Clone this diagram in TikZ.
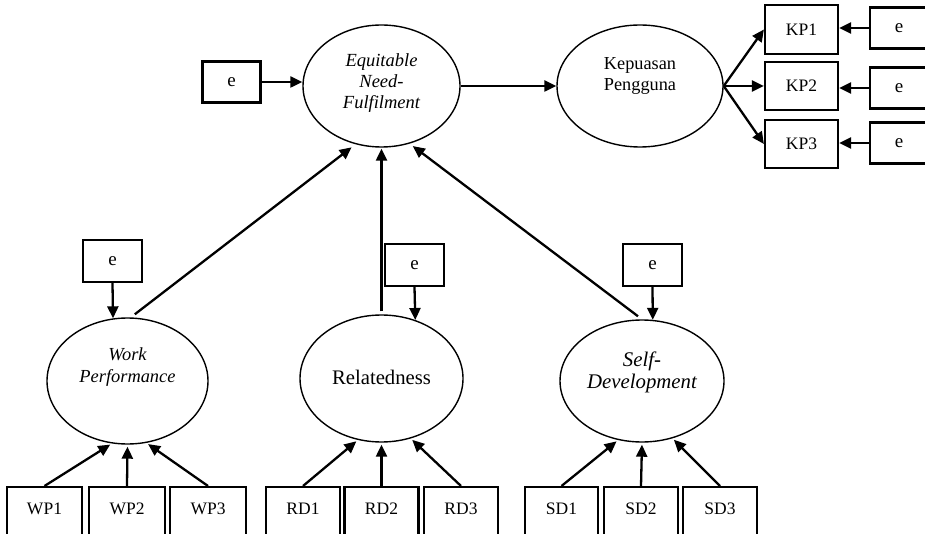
\documentclass[tikz,border=0pt]{standalone}
\usepackage{fontspec}
\setmainfont{Liberation Serif}
\usetikzlibrary{arrows.meta,shapes.geometric}
\begin{document}
\begin{tikzpicture}[x=1pt,y=-1pt,
  box/.style={draw, line width=2.2pt, rectangle, inner sep=0pt,
    font=\fontsize{17.5}{20}\selectfont},
  errbox/.style={box, minimum width=58pt, minimum height=41pt,
    font=\fontsize{19}{20}\selectfont},
  indbox/.style={box, minimum width=74pt, anchor=north,
    text height=27pt, text depth=35pt},
  kpbox/.style={box, minimum width=73pt, minimum height=48pt},
  latent/.style={draw, ellipse, line width=1.4pt, inner sep=0pt},
  intext/.style={align=center, inner sep=0pt},
  arr/.style={line width=2.3pt, -{Triangle[length=12pt,width=11pt]}}
]
\useasboundingbox (0,0) rectangle (925,534);
\clip (0,0) rectangle (925,534);

% endogenous constructs
\node[errbox] (e0) at (231.5,82) {e};
\node[latent, minimum width=157pt, minimum height=122pt,
  label={[intext, font=\fontsize{18.5}{21}\selectfont\itshape, yshift=2.5pt]center:{Equitable\\Need-\\Fulfilment}}]
  (eq) at (381.5,86) {};
\node[latent, minimum width=166pt, minimum height=122pt,
  label={[intext, font=\fontsize{18.3}{21}\selectfont, yshift=10.5pt]center:{Kepuasan\\Pengguna}}]
  (kp) at (640,86) {};

% indicators of Kepuasan Pengguna with their errors
\node[kpbox, minimum height=49pt] (kp1) at (801.5,29.5) {KP1};
\node[kpbox] (kp2) at (801.5,86) {KP2};
\node[kpbox] (kp3) at (801.5,144) {KP3};
\node[errbox] (ek1) at (899,28) {e};
\node[errbox] (ek2) at (899,88) {e};
\node[errbox] (ek3) at (899,143) {e};

% exogenous constructs
\node[latent, minimum width=161pt, minimum height=126pt,
  label={[intext, font=\fontsize{18.4}{22.5}\selectfont\itshape, yshift=14pt]center:{Work\\Performance}}]
  (wp) at (127.5,381) {};
\node[latent, minimum width=163pt, minimum height=127pt,
  label={[intext, font=\fontsize{20.7}{23}\selectfont, yshift=1.5pt]center:{Relatedness}}]
  (rel) at (381.5,378.5) {};
\node[latent, minimum width=164pt, minimum height=122pt,
  label={[intext, font=\fontsize{20.8}{22.5}\selectfont\itshape, yshift=8.5pt]center:{Self-\\Development}}]
  (sd) at (642,381) {};

\node[errbox, minimum width=59pt, minimum height=42pt] (ew) at (112.5,261) {e};
\node[errbox, minimum width=59pt, minimum height=42pt] (er) at (414.5,265) {e};
\node[errbox, minimum width=59pt, minimum height=42pt] (es) at (652.5,265) {e};

% indicator boxes
\node[indbox, minimum width=75pt] (wp1) at (44.5,486) {WP1};
\node[indbox, minimum width=76pt] (wp2) at (127,486) {WP2};
\node[indbox, minimum width=76pt] (wp3) at (208,486) {WP3};
\node[indbox] (rd1) at (303,486) {RD1};
\node[indbox] (rd2) at (381.5,486) {RD2};
\node[indbox] (rd3) at (461,486) {RD3};
\node[indbox, minimum width=73pt] (sd1) at (561.5,486) {SD1};
\node[indbox] (sd2) at (641,486) {SD2};
\node[indbox] (sd3) at (720,486) {SD3};

% structural paths
\draw[arr] (e0.east) -- (e0.east -| eq.west);
\draw[arr] (eq.east) -- (kp.west);
\draw[arr, shorten <=5pt, shorten >=5pt] (wp.87) -- (eq.246);
\draw[arr, shorten <=3pt, shorten >=1pt] (rel.north) -- (eq.south);
\draw[arr, shorten <=5pt, shorten >=4pt] (sd.north) -- (eq.296);

% measurement paths of Kepuasan Pengguna
\draw[arr] (kp.east) -- (kp1.west);
\draw[arr] (kp.east) -- (kp2.west);
\draw[arr] (kp.east) -- (kp3.west);
\draw[arr] (ek1.west) -- (ek1.west -| kp1.east);
\draw[arr] (ek2.west) -- (ek2.west -| kp2.east);
\draw[arr] (ek3.west) -- (ek3.west -| kp3.east);

% disturbances
\draw[arr] (ew.south) -- (wp.103.6);
\draw[arr] (er.south) -- (rel.60.4);
\draw[arr] (es.south) -- (sd.80.2);

% reflective indicators
\draw[arr, shorten >=2pt] (wp1.north) -- (wp.256);
\draw[arr, shorten >=2pt] (wp2.north) -- (wp.south);
\draw[arr, shorten >=2pt] (wp3.north) -- (wp.287);
\draw[arr, shorten >=2pt] (rd1.north) -- (rel.249);
\draw[arr, shorten >=2pt] (rd2.north) -- (rel.south);
\draw[arr, shorten >=2pt] (rd3.north) -- (rel.296);
\draw[arr, shorten >=2pt] (sd1.north) -- (sd.248);
\draw[arr, shorten >=2pt] (sd2.north) -- (sd.south);
\draw[arr, shorten >=2pt] (sd3.north) -- (sd.298);
\end{tikzpicture}
\end{document}
